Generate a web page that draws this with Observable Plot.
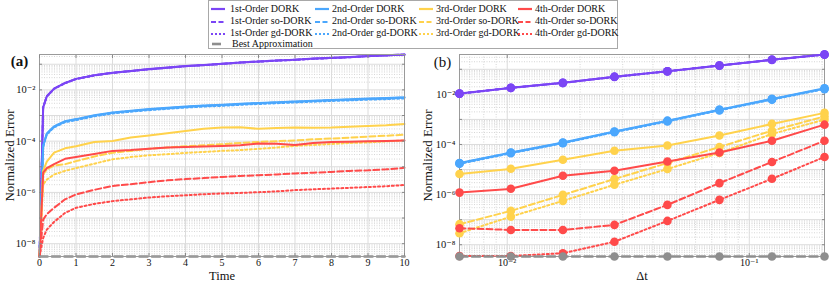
<!DOCTYPE html>
<html><head><meta charset="utf-8">
<script src="https://cdn.jsdelivr.net/npm/d3@7"></script>
<script src="https://cdn.jsdelivr.net/npm/@observablehq/plot@0.6"></script>
<style>
body{margin:0;background:#fff;font-family:"Liberation Serif","Times New Roman","DejaVu Serif",serif;}
#root{position:relative;width:830px;height:281px;overflow:hidden;background:#fff}
#legend{position:absolute;left:208px;top:0;width:410px;height:49px;border:1px solid #a8a8a8;box-sizing:border-box;background:#fff}
.li{position:absolute;font-size:10px;line-height:10px;white-space:nowrap;color:#111;font-family:"Liberation Serif","Times New Roman","DejaVu Serif",serif}
.sw{position:absolute}
.panel{position:absolute;top:48px}
.panel svg{overflow:visible}
.panel svg text{font-family:"Liberation Serif","Times New Roman","DejaVu Serif",serif}
g[aria-label="y-axis label"] text{font-size:13px}
g[aria-label="x-axis label"] text{font-size:12.5px}
</style></head>
<body><div id="root"><div id="legend"></div></div>
<script>
// ---------- Left panel (a): error vs time ----------
const time = [0, 0.1, 0.2, 0.4, 0.7, 1, 1.5, 2, 2.5, 3, 3.5, 4, 4.5, 5, 5.5, 6, 6.5, 7, 7.5, 8, 8.5, 9, 9.5, 10];
const a_1st_DORK = [3.16e-9, 2.09e-3, 5.62e-3, 1.12e-2, 1.86e-2, 2.69e-2, 3.72e-2, 4.68e-2, 5.50e-2, 6.46e-2, 7.41e-2, 8.51e-2, 9.33e-2, 0.105, 0.118, 0.129, 0.141, 0.151, 0.166, 0.178, 0.191, 0.209, 0.224, 0.240];
const a_1st_so = [3.16e-9, 2.07e-3, 5.57e-3, 1.11e-2, 1.84e-2, 2.66e-2, 3.68e-2, 4.63e-2, 5.45e-2, 6.40e-2, 7.34e-2, 8.43e-2, 9.24e-2, 0.104, 0.117, 0.128, 0.140, 0.150, 0.164, 0.176, 0.189, 0.207, 0.222, 0.238];
const a_1st_gd = [3.16e-9, 2.05e-3, 5.51e-3, 1.10e-2, 1.82e-2, 2.64e-2, 3.65e-2, 4.59e-2, 5.39e-2, 6.33e-2, 7.26e-2, 8.34e-2, 9.14e-2, 0.103, 0.116, 0.126, 0.138, 0.148, 0.163, 0.174, 0.187, 0.205, 0.220, 0.235];
const a_2nd_DORK = [3.16e-9, 6.61e-5, 2.00e-4, 3.80e-4, 6.03e-4, 7.24e-4, 1.02e-3, 1.32e-3, 1.55e-3, 1.78e-3, 2.00e-3, 2.24e-3, 2.46e-3, 2.63e-3, 2.88e-3, 3.09e-3, 3.31e-3, 3.55e-3, 3.80e-3, 4.07e-3, 4.27e-3, 4.57e-3, 4.79e-3, 5.13e-3];
const a_2nd_so = [3.16e-9, 6.4e-5, 1.94e-4, 3.69e-4, 5.85e-4, 7.02e-4, 9.9e-4, 1.28e-3, 1.50e-3, 1.73e-3, 1.94e-3, 2.17e-3, 2.39e-3, 2.55e-3, 2.79e-3, 3.00e-3, 3.21e-3, 3.44e-3, 3.69e-3, 3.95e-3, 4.14e-3, 4.43e-3, 4.65e-3, 4.98e-3];
const a_2nd_gd = [3.16e-9, 6.0e-5, 1.82e-4, 3.46e-4, 5.49e-4, 6.59e-4, 9.3e-4, 1.20e-3, 1.41e-3, 1.62e-3, 1.82e-3, 2.04e-3, 2.24e-3, 2.39e-3, 2.62e-3, 2.81e-3, 3.01e-3, 3.23e-3, 3.46e-3, 3.70e-3, 3.89e-3, 4.16e-3, 4.36e-3, 4.67e-3];
const a_3rd_DORK = [3.16e-9, 6.92e-6, 1.58e-5, 3.55e-5, 5.25e-5, 6.31e-5, 9.33e-5, 1.02e-4, 1.38e-4, 1.66e-4, 2.04e-4, 2.51e-4, 3.02e-4, 3.39e-4, 3.47e-4, 3.02e-4, 3.24e-4, 3.39e-4, 3.31e-4, 3.39e-4, 3.63e-4, 3.89e-4, 4.17e-4, 4.68e-4];
const a_3rd_so = [3.16e-9, 5.01e-6, 7.94e-6, 1.12e-5, 1.26e-5, 1.66e-5, 2.51e-5, 3.55e-5, 4.17e-5, 5.01e-5, 5.62e-5, 6.31e-5, 6.92e-5, 7.59e-5, 8.51e-5, 9.33e-5, 1.00e-4, 1.07e-4, 1.18e-4, 1.26e-4, 1.38e-4, 1.51e-4, 1.62e-4, 1.78e-4];
const a_3rd_gd = [3.16e-9, 2.04e-6, 3.16e-6, 5.01e-6, 6.92e-6, 8.91e-6, 1.32e-5, 1.95e-5, 2.40e-5, 2.82e-5, 3.09e-5, 3.47e-5, 3.80e-5, 4.17e-5, 4.47e-5, 5.01e-5, 5.62e-5, 6.61e-5, 7.08e-5, 7.76e-5, 8.51e-5, 8.91e-5, 9.77e-5, 1.07e-4];
const a_4th_DORK = [3.16e-9, 5.89e-6, 8.91e-6, 1.26e-5, 2.04e-5, 2.40e-5, 3.16e-5, 4.17e-5, 4.47e-5, 5.01e-5, 5.62e-5, 5.89e-5, 6.17e-5, 6.46e-5, 6.92e-5, 8.13e-5, 7.94e-5, 7.08e-5, 8.51e-5, 9.33e-5, 9.55e-5, 1.00e-4, 1.02e-4, 1.07e-4];
const a_4th_so = [3.16e-9, 8.71e-8, 1.41e-7, 2.51e-7, 5.37e-7, 8.32e-7, 1.26e-6, 1.78e-6, 2.09e-6, 2.51e-6, 2.95e-6, 3.31e-6, 3.63e-6, 3.98e-6, 4.37e-6, 4.68e-6, 5.01e-6, 5.50e-6, 5.89e-6, 6.31e-6, 6.92e-6, 7.24e-6, 7.94e-6, 9.12e-6];
const a_4th_gd = [3.16e-9, 1.66e-8, 3.55e-8, 7.08e-8, 1.58e-7, 2.51e-7, 3.55e-7, 4.57e-7, 5.37e-7, 6.31e-7, 7.08e-7, 7.76e-7, 8.51e-7, 9.12e-7, 9.55e-7, 1.02e-6, 1.10e-6, 1.23e-6, 1.32e-6, 1.41e-6, 1.51e-6, 1.62e-6, 1.74e-6, 1.95e-6];
const a_best = [3.16e-9, 3.16e-9, 3.16e-9, 3.16e-9, 3.16e-9, 3.16e-9, 3.16e-9, 3.16e-9, 3.16e-9, 3.16e-9, 3.16e-9, 3.16e-9, 3.16e-9, 3.16e-9, 3.16e-9, 3.16e-9, 3.16e-9, 3.16e-9, 3.16e-9, 3.16e-9, 3.16e-9, 3.16e-9, 3.16e-9, 3.16e-9];
const timeTicks = [0, 1, 2, 3, 4, 5, 6, 7, 8, 9, 10];
const a_yDomain = [3.16e-9, 0.24];

// ---------- Right panel (b): error vs step size ----------
const dt = [0.00635, 0.01035, 0.01698, 0.02773, 0.0459, 0.0753, 0.1241, 0.2046];
const b_1st_DORK = [1.07e-2, 1.82e-2, 2.88e-2, 5.01e-2, 8.32e-2, 0.141, 0.240, 0.389];
const b_1st_so = [1.07e-2, 1.82e-2, 2.88e-2, 5.01e-2, 8.32e-2, 0.141, 0.240, 0.389];
const b_1st_gd = [1.06e-2, 1.80e-2, 2.85e-2, 4.96e-2, 8.24e-2, 0.140, 0.238, 0.385];
const b_2nd_DORK = [1.82e-5, 4.79e-5, 1.20e-4, 3.31e-4, 8.91e-4, 2.46e-3, 6.61e-3, 1.74e-2];
const b_2nd_so = [1.77e-5, 4.65e-5, 1.16e-4, 3.21e-4, 8.64e-4, 2.39e-3, 6.41e-3, 1.69e-2];
const b_2nd_gd = [1.69e-5, 4.45e-5, 1.12e-4, 3.08e-4, 8.29e-4, 2.29e-3, 6.15e-3, 1.62e-2];
const b_3rd_DORK = [6.61e-6, 1.07e-5, 2.46e-5, 5.62e-5, 9.12e-5, 2.29e-4, 6.61e-4, 1.82e-3];
const b_3rd_so = [6.61e-8, 2.24e-7, 9.77e-7, 4.17e-6, 1.82e-5, 7.94e-5, 3.55e-4, 1.32e-3];
const b_3rd_gd = [2.88e-8, 1.32e-7, 5.62e-7, 2.46e-6, 1.05e-5, 4.57e-5, 2.63e-4, 9.77e-4];
const b_4th_DORK = [1.20e-6, 1.70e-6, 5.62e-6, 8.91e-6, 2.09e-5, 4.79e-5, 1.41e-4, 6.17e-4];
const b_4th_so = [4.57e-8, 3.89e-8, 3.89e-8, 6.17e-8, 3.89e-7, 2.88e-6, 2.00e-5, 1.41e-4];
const b_4th_gd = [3.55e-9, 3.55e-9, 4.57e-9, 1.32e-8, 8.91e-8, 6.17e-7, 4.27e-6, 3.16e-5];
const b_best = [3.39e-9, 3.39e-9, 3.39e-9, 3.39e-9, 3.39e-9, 3.39e-9, 3.39e-9, 3.39e-9];
const dtTicks = [0.01, 0.1];
const b_yDomain = [3.39e-9, 0.389];

// legend labels
const orders = ["1st-Order", "2nd-Order", "3rd-Order", "4th-Order"];
const variants = ["DORK", "so-DORK", "gd-DORK"];
const bestLabel = "Best Approximation";

// ---------- styles ----------
const FONT = "'Liberation Serif','Times New Roman','DejaVu Serif',serif";
const colors = ["#7b45f5", "#4ba7fd", "#ffd24c", "#ff4a4a"];
const grayC = "#8e8e8e";
const dashes = [null, "6,3", "2,2.6"];
const LW = 2;

const aSeries = [[a_1st_DORK,a_1st_so,a_1st_gd],[a_2nd_DORK,a_2nd_so,a_2nd_gd],[a_3rd_DORK,a_3rd_so,a_3rd_gd],[a_4th_DORK,a_4th_so,a_4th_gd]];
const bSeries = [[b_1st_DORK,b_1st_so,b_1st_gd],[b_2nd_DORK,b_2nd_so,b_2nd_gd],[b_3rd_DORK,b_3rd_so,b_3rd_gd],[b_4th_DORK,b_4th_so,b_4th_gd]];

const supMap = {"-":"\u207B","0":"\u2070","1":"\u00B9","2":"\u00B2","3":"\u00B3","4":"\u2074","5":"\u2075","6":"\u2076","7":"\u2077","8":"\u2078","9":"\u2079"};
const sup = s => String(s).split("").map(c => supMap[c]).join("");
const decadeFmt = (d) => { const e = Math.round(Math.log10(d)); return "10" + sup(e); };
const evenDecadeFmt = (d) => { const e = Math.round(Math.log10(d)); return e % 2 === 0 ? "10" + sup(e) : ""; };

function logGrid(lo, hi) {
  const major = [], minor = [];
  for (let e = Math.floor(Math.log10(lo)); e <= Math.ceil(Math.log10(hi)); e++) {
    const b = Math.pow(10, e);
    if (b >= lo && b <= hi) major.push(b);
    for (let k = 2; k <= 9; k++) { const v = k * b; if (v > lo && v < hi) minor.push(v); }
  }
  return {major, minor};
}

const tickColor = "#8a8a8a";
function frameMarks(xOpts, yOpts) {
  return [
    Plot.frame({stroke: "#9a9a9a", strokeWidth: 1}),
    Plot.axisX({...xOpts, anchor: "bottom", tickSize: -3, tickFormat: () => "", label: null, stroke: tickColor}),
    Plot.axisX({...xOpts, anchor: "top", tickSize: -3, tickFormat: () => "", label: null, stroke: tickColor}),
    Plot.axisY({...yOpts, anchor: "left", tickSize: -3, tickFormat: () => "", label: null, stroke: tickColor}),
    Plot.axisY({...yOpts, anchor: "right", tickSize: -3, tickFormat: () => "", label: null, stroke: tickColor}),
  ];
}

function rows(xs, ys) { return xs.map((x, i) => ({x, y: ys[i]})); }

// ---------- Panel (a) ----------
const aGrid = logGrid(a_yDomain[0], a_yDomain[1]);
const aMarks = [
  Plot.gridY(aGrid.minor, {stroke: "#d6d6d6", strokeOpacity: 1, strokeDasharray: "1,1.5"}),
  Plot.gridY(aGrid.major, {stroke: "#dcdcdc", strokeOpacity: 1}),
  Plot.gridX(timeTicks, {stroke: "#dcdcdc", strokeOpacity: 1}),
];
aSeries.forEach((grp, oi) => grp.forEach((vals, vi) => {
  aMarks.push(Plot.line(rows(time, vals), {x: "x", y: "y", stroke: colors[oi], strokeWidth: LW, strokeDasharray: dashes[vi], curve: "linear"}));
}));
aMarks.push(Plot.line(rows(time, a_best), {x: "x", y: "y", stroke: grayC, strokeWidth: 2.6, strokeDasharray: "8,4.5"}));
aMarks.push(...frameMarks({ticks: timeTicks}, {ticks: aGrid.major}));
aMarks.push(Plot.axisX({ticks: timeTicks, tickSize: 0, tickPadding: 2, label: "Time", labelAnchor: "center", labelArrow: "none", labelOffset: 23, fontSize: 10}));
aMarks.push(Plot.axisY({ticks: aGrid.major, tickSize: 0, tickPadding: 4, tickFormat: evenDecadeFmt, label: "Normalized Error", labelAnchor: "center", labelArrow: "none", labelOffset: 35, fontSize: 10.5}));
aMarks.push(Plot.text(["(a)"], {frameAnchor: "top-left", dx: -20, dy: 7, fontSize: 15, fontWeight: "bold", textAnchor: "middle", lineAnchor: "middle"}));

const plotA = Plot.plot({
  width: 415, height: 233, marginLeft: 39, marginRight: 11, marginTop: 6, marginBottom: 25,
  style: {fontFamily: FONT, fontSize: "10.5px", background: "transparent", color: "#111"},
  x: {domain: [0, 10]},
  y: {type: "log", domain: a_yDomain},
  marks: aMarks
});

// ---------- Panel (b) ----------
const bGrid = logGrid(b_yDomain[0], b_yDomain[1]);
const xGridB = logGrid(dt[0], dt[dt.length - 1]);
const bMarks = [
  Plot.gridY(bGrid.minor, {stroke: "#d6d6d6", strokeOpacity: 1, strokeDasharray: "1,1.5"}),
  Plot.gridY(bGrid.major, {stroke: "#dcdcdc", strokeOpacity: 1}),
  Plot.gridX(xGridB.minor, {stroke: "#d6d6d6", strokeOpacity: 1, strokeDasharray: "1,1.5"}),
  Plot.gridX(dtTicks, {stroke: "#dcdcdc", strokeOpacity: 1}),
];
bMarks.push(...frameMarks({ticks: dtTicks}, {ticks: bGrid.major}));
bSeries.forEach((grp, oi) => grp.forEach((vals, vi) => {
  bMarks.push(Plot.line(rows(dt, vals), {x: "x", y: "y", stroke: colors[oi], strokeWidth: LW, strokeDasharray: dashes[vi]}));
  bMarks.push(Plot.dot(rows(dt, vals), {x: "x", y: "y", fill: colors[oi], r: 4.3, stroke: null}));
}));
bMarks.push(Plot.line(rows(dt, b_best), {x: "x", y: "y", stroke: grayC, strokeWidth: 2.6, strokeDasharray: "8,4.5"}));
bMarks.push(Plot.dot(rows(dt, b_best), {x: "x", y: "y", fill: grayC, r: 4.3, stroke: null}));
bMarks.push(Plot.axisX({ticks: dtTicks, tickSize: 0, tickPadding: 2, tickFormat: decadeFmt, label: "\u0394t", labelAnchor: "center", labelArrow: "none", labelOffset: 23, fontSize: 10}));
bMarks.push(Plot.axisY({ticks: bGrid.major, tickSize: 0, tickPadding: 4, tickFormat: evenDecadeFmt, label: "Normalized Error", labelAnchor: "center", labelArrow: "none", labelOffset: 37, fontSize: 10.5}));
bMarks.push(Plot.text(["(b)"], {frameAnchor: "top-left", dx: -17, dy: 8, fontSize: 15, textAnchor: "middle", lineAnchor: "middle"}));

const plotB = Plot.plot({
  width: 415, height: 233, marginLeft: 44, marginRight: 6, marginTop: 6, marginBottom: 25,
  style: {fontFamily: FONT, fontSize: "10.5px", background: "transparent", color: "#111"},
  x: {type: "log", domain: [dt[0], dt[dt.length - 1]]},
  y: {type: "log", domain: b_yDomain},
  marks: bMarks
});

const root = document.getElementById("root");
const pa = document.createElement("div"); pa.className = "panel"; pa.style.left = "0px"; pa.appendChild(plotA);
const pb = document.createElement("div"); pb.className = "panel"; pb.style.left = "415px"; pb.appendChild(plotB);
root.insertBefore(pb, root.firstChild);
root.insertBefore(pa, root.firstChild);

// ---------- Legend ----------
const legend = document.getElementById("legend");
const colSw = [2, 106, 210, 309];   // relative to legend box
const colTx = [21, 123, 227, 326];
const rowY = [8, 20.5, 32.5, 43];
function swatch(x, y, color, dash, w, sw) {
  const s = document.createElementNS("http://www.w3.org/2000/svg", "svg");
  s.setAttribute("width", w); s.setAttribute("height", 6); s.setAttribute("class", "sw");
  s.style.left = x + "px"; s.style.top = (y - 3) + "px";
  const l = document.createElementNS("http://www.w3.org/2000/svg", "line");
  l.setAttribute("x1", 0); l.setAttribute("x2", w); l.setAttribute("y1", 3); l.setAttribute("y2", 3);
  l.setAttribute("stroke", color); l.setAttribute("stroke-width", sw);
  if (dash) l.setAttribute("stroke-dasharray", dash);
  s.appendChild(l); legend.appendChild(s);
}
function label(x, y, text) {
  const d = document.createElement("div"); d.className = "li";
  d.style.left = x + "px"; d.style.top = (y - 5.5) + "px"; d.textContent = text; legend.appendChild(d);
}
orders.forEach((o, ci) => variants.forEach((v, ri) => {
  swatch(colSw[ci], rowY[ri], colors[ci], ri === 1 ? "5,2.5" : (ri === 2 ? "2,2" : null), 14, 2.2);
  label(colTx[ci], rowY[ri], o + " " + v);
}));
swatch(colSw[0] + 1, rowY[3], grayC, null, 9, 2.6);
label(colTx[0] + 2, rowY[3], bestLabel);
</script>
</body></html>
